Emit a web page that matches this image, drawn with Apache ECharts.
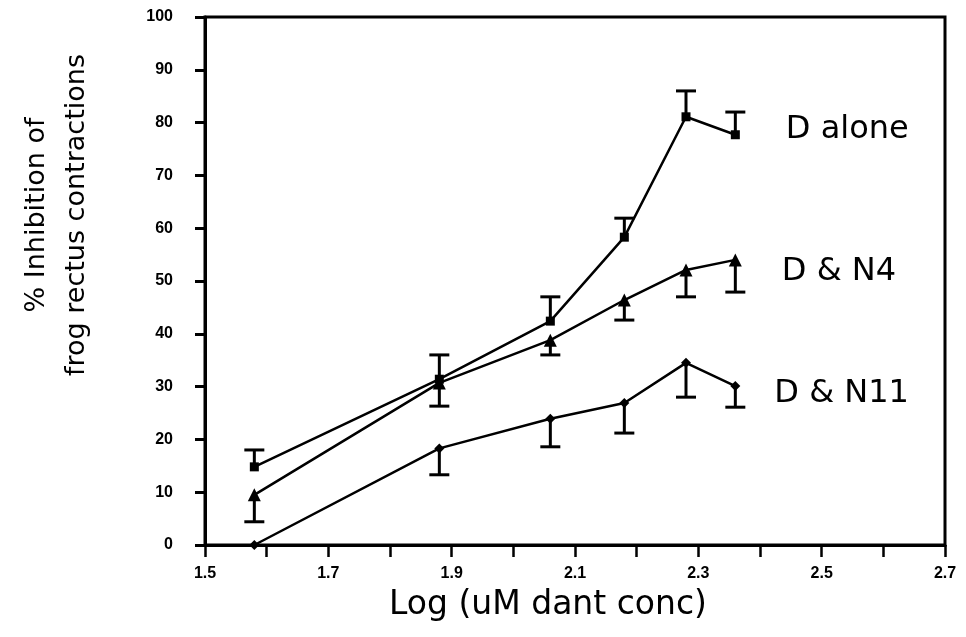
<!DOCTYPE html>
<html>
<head>
<meta charset="utf-8">
<script src="https://cdn.jsdelivr.net/npm/echarts@6/dist/echarts.min.js"></script>
<style>
  html, body { margin: 0; padding: 0; background: #fff; }
  #chart { width: 966px; height: 637px; }
</style>
</head>
<body>
<div id="chart"></div>
<script>
// log concentration (x) for each dose
var logConc = [1.58, 1.88, 2.06, 2.18, 2.28, 2.36];

// % inhibition
var dAlone = [14.8, 31.4, 42.4, 58.3, 81.1, 77.7];
var dAloneErr = [3.2, 4.6, 4.6, 3.6, 4.9, 4.3];   // bars go up
var dN4 = [9.5, 30.7, 38.8, 46.4, 52.1, 54.0];
var dN4Err = [5.1, 4.4, 2.8, 3.8, 5.1, 6.1];      // bars go down
var dN11 = [0, 18.3, 23.9, 26.9, 34.5, 30.1];
var dN11Err = [0, 5.0, 5.3, 5.7, 6.5, 4.0];       // bars go down

var seriesNames = ['D alone', 'D & N4', 'D & N11'];

var myChart = echarts.init(document.getElementById('chart'));

function pairs(ys) {
    return logConc.map(function (x, i) { return [x, ys[i]]; });
}

function errData(ys, errs, dir) {
    return logConc.map(function (x, i) { return [x, ys[i], errs[i], dir]; });
}

function errRender(params, api) {
    var x = api.value(0), y = api.value(1), e = api.value(2), dir = api.value(3);
    if (!e) return;
    var p0 = api.coord([x, y]);
    var p1 = api.coord([x, y + dir * e]);
    var hw = 10;
    return {
        type: 'group',
        children: [
            { type: 'line', shape: { x1: p0[0], y1: p0[1], x2: p1[0], y2: p1[1] }, style: { stroke: '#000', lineWidth: 3 } },
            { type: 'line', shape: { x1: p1[0] - hw, y1: p1[1], x2: p1[0] + hw, y2: p1[1] }, style: { stroke: '#000', lineWidth: 3 } }
        ]
    };
}

var axisFont = 'DejaVu Sans';

// name label sits next to the last point of each line
function lineSeries(name, ys, symbol, size, labelOffset) {
    var data = pairs(ys).map(function (p, i) {
        if (i === ys.length - 1) {
            return {
                value: p,
                label: {
                    show: true,
                    position: 'right',
                    distance: 46,
                    offset: labelOffset,
                    formatter: name,
                    color: '#000',
                    fontFamily: axisFont,
                    fontSize: 32
                }
            };
        }
        return p;
    });
    return {
        name: name,
        type: 'line',
        data: data,
        symbol: symbol,
        symbolSize: size,
        showSymbol: true,
        lineStyle: { color: '#000', width: 2.5 },
        itemStyle: { color: '#000' },
        z: 3
    };
}

var option = {
    backgroundColor: '#fff',
    animation: false,
    grid: {
        left: 205, right: 21, top: 17, bottom: 92,
        show: true,
        borderColor: '#000',
        borderWidth: 3
    },
    xAxis: {
        type: 'value',
        min: 1.5,
        max: 2.7,
        interval: 0.1,
        name: 'Log (uM dant conc)',
        nameLocation: 'middle',
        nameGap: 44,
        nameTextStyle: { fontFamily: axisFont, fontSize: 33, color: '#000', padding: [0, 54, 0, 0] },
        axisLine: { lineStyle: { color: '#000', width: 3 } },
        axisTick: { length: 12, lineStyle: { color: '#000', width: 2.5 } },
        splitLine: { show: false },
        axisLabel: {
            margin: 21,
            color: '#000',
            fontFamily: 'Liberation Sans',
            fontWeight: 'bold',
            fontSize: 16,
            formatter: function (v) {
                return Math.round(v * 10) % 2 === 1 ? v.toFixed(1) : '';
            }
        }
    },
    yAxis: {
        type: 'value',
        min: 0,
        max: 100,
        interval: 10,
        name: '% Inhibition of\nfrog rectus contractions',
        nameLocation: 'middle',
        nameRotate: 90,
        nameGap: 108,
        nameTextStyle: { fontFamily: axisFont, fontSize: 27, lineHeight: 40, color: '#000', padding: [0, 0, 0, 132] },
        axisLine: { lineStyle: { color: '#000', width: 3 } },
        axisTick: { length: 10, lineStyle: { color: '#000', width: 3 } },
        splitLine: { show: false },
        axisLabel: {
            margin: 32,
            color: '#000',
            fontFamily: 'Liberation Sans',
            fontWeight: 'bold',
            fontSize: 16
        }
    },
    series: [
        lineSeries(seriesNames[0], dAlone, 'rect', 9, [0, -5]),
        lineSeries(seriesNames[1], dN4, 'triangle', 13, [-6, 12]),
        lineSeries(seriesNames[2], dN11, 'diamond', 10, [-12, 8]),
        { type: 'custom', renderItem: errRender, data: errData(dAlone, dAloneErr, 1), z: 2 },
        { type: 'custom', renderItem: errRender, data: errData(dN4, dN4Err, -1), z: 2 },
        { type: 'custom', renderItem: errRender, data: errData(dN11, dN11Err, -1), z: 2 }
    ]
};

myChart.setOption(option);
</script>
</body>
</html>
